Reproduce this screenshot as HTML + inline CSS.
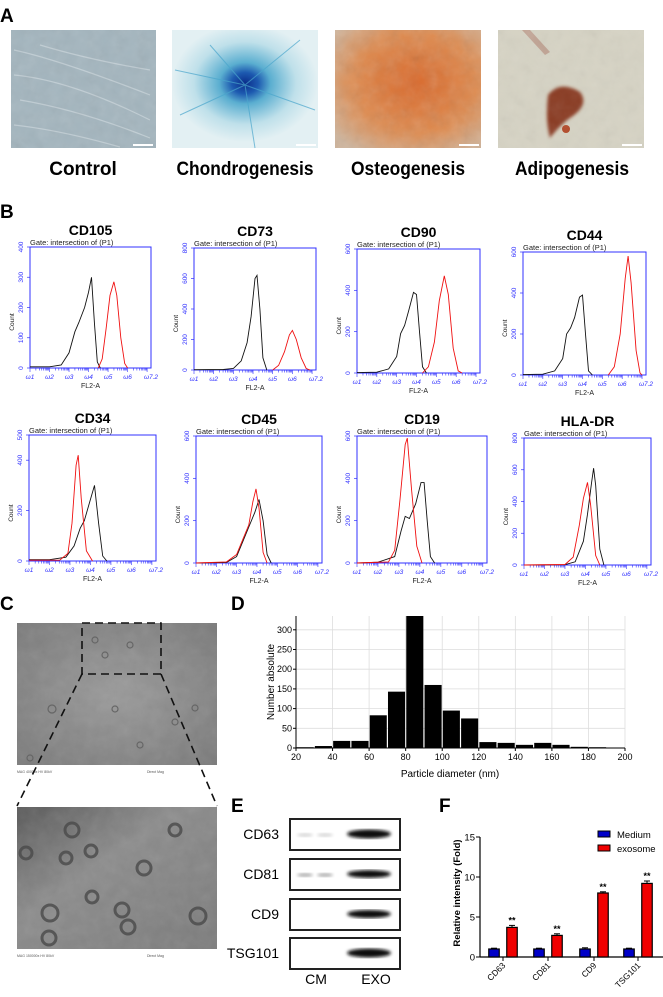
<!DOCTYPE html>
<html><head><meta charset="utf-8">
<style>
html,body{margin:0;padding:0;background:#fff;}
body{width:663px;height:992px;overflow:hidden;font-family:"Liberation Sans",Arial,sans-serif;}
svg text{font-family:"Liberation Sans",Arial,sans-serif;}
</style></head>
<body>
<svg id="fig" width="663" height="992" viewBox="0 0 663 992" xmlns="http://www.w3.org/2000/svg">
<defs>
 <filter id="blur1"><feGaussianBlur stdDeviation="1.5"/></filter>
 <filter id="blur3"><feGaussianBlur stdDeviation="3"/></filter>
 <filter id="noise" x="0" y="0" width="1" height="1"><feTurbulence type="fractalNoise" baseFrequency="0.08" numOctaves="3" seed="4"/><feColorMatrix type="saturate" values="0"/><feComponentTransfer><feFuncA type="linear" slope="0.35"/></feComponentTransfer></filter>
 <radialGradient id="chondro" cx="0.5" cy="0.45" r="0.5"><stop offset="0" stop-color="#0a2d8a"/><stop offset="0.18" stop-color="#1d5ab0"/><stop offset="0.35" stop-color="#5aaed0"/><stop offset="0.7" stop-color="#bfe0ea"/><stop offset="1" stop-color="#e3f0f3"/></radialGradient>
 <radialGradient id="osteo" cx="0.55" cy="0.45" r="0.7"><stop offset="0" stop-color="#d9682a"/><stop offset="0.6" stop-color="#de8a4e"/><stop offset="1" stop-color="#cfb49b"/></radialGradient>
 <radialGradient id="tem1" cx="0.5" cy="0.5" r="0.7"><stop offset="0" stop-color="#9a9a9a"/><stop offset="1" stop-color="#7a7a7a"/></radialGradient>
 <linearGradient id="tem2" x1="0" y1="0" x2="1" y2="1"><stop offset="0" stop-color="#5a5a5a"/><stop offset="0.4" stop-color="#8c8c8c"/><stop offset="1" stop-color="#7c7c7c"/></linearGradient>
</defs>

<!-- Panel A -->
<text x="0" y="22" font-size="19" font-weight="bold">A</text>
<g>
 <rect x="11" y="30" width="145" height="118" fill="#a3b5be"/>
 <g stroke="#c8d4da" stroke-width="1.2" fill="none" opacity="0.8">
  <path d="M14 50 Q60 60 150 95"/><path d="M14 75 Q70 80 150 120"/><path d="M20 100 Q80 110 150 138"/><path d="M40 45 Q90 60 150 70"/><path d="M14 125 Q60 130 120 147"/>
 </g>
 <rect x="11" y="30" width="145" height="118" filter="url(#noise)" opacity="0.5"/>
 <rect x="133" y="144" width="20" height="2" fill="#fff"/>
</g>
<g>
 <rect x="172" y="30" width="146" height="118" fill="url(#chondro)"/>
 <g stroke="#4aa6cc" stroke-width="1" opacity="0.7">
  <line x1="245" y1="85" x2="180" y2="115"/><line x1="245" y1="85" x2="255" y2="148"/><line x1="245" y1="85" x2="300" y2="40"/><line x1="245" y1="85" x2="210" y2="45"/><line x1="245" y1="85" x2="315" y2="110"/><line x1="245" y1="85" x2="175" y2="70"/>
 </g>
 <rect x="296" y="144" width="20" height="2" fill="#fff"/>
</g>
<g>
 <rect x="335" y="30" width="146" height="118" fill="url(#osteo)"/>
 <rect x="335" y="30" width="146" height="118" filter="url(#noise)" opacity="0.6"/>
 <rect x="459" y="144" width="20" height="2" fill="#fff"/>
</g>
<g>
 <rect x="498" y="30" width="146" height="118" fill="#d6d3c4"/>
 <path d="M548 95 Q560 80 580 92 Q590 105 570 118 Q560 125 550 138 Q545 120 548 95Z" fill="#8a3a22" filter="url(#blur1)"/>
 <circle cx="566" cy="129" r="4" fill="#b24a2a"/>
 <path d="M530 30 L550 52 L545 55 L522 30Z" fill="#b89080" opacity="0.7"/>
 <rect x="498" y="30" width="146" height="118" filter="url(#noise)" opacity="0.35"/>
 <rect x="622" y="144" width="20" height="2" fill="#fff"/>
</g>
<text x="83" y="175" font-size="19" font-weight="bold" text-anchor="middle">Control</text>
<text x="245" y="175" font-size="19" font-weight="bold" text-anchor="middle" textLength="137" lengthAdjust="spacingAndGlyphs">Chondrogenesis</text>
<text x="408" y="175" font-size="19" font-weight="bold" text-anchor="middle" textLength="114" lengthAdjust="spacingAndGlyphs">Osteogenesis</text>
<text x="572" y="175" font-size="19" font-weight="bold" text-anchor="middle" textLength="114" lengthAdjust="spacingAndGlyphs">Adipogenesis</text>

<!-- Panel B -->
<text x="0" y="218" font-size="19" font-weight="bold">B</text>
<g id="flow"></g>

<!-- Panel C -->
<text x="0" y="610" font-size="19" font-weight="bold">C</text>
<g>
 <rect x="17" y="623" width="200" height="142" fill="url(#tem1)"/>
 <rect x="17" y="623" width="200" height="142" filter="url(#noise)" opacity="0.4"/>
 <g fill="none" stroke="#666" stroke-width="1.2">
  <circle cx="52" cy="709" r="4"/><circle cx="115" cy="709" r="3"/><circle cx="95" cy="640" r="3"/><circle cx="130" cy="645" r="3"/><circle cx="105" cy="655" r="3"/><circle cx="175" cy="722" r="3"/><circle cx="195" cy="708" r="3"/><circle cx="30" cy="758" r="3"/><circle cx="140" cy="745" r="3"/>
 </g>
 <text x="17" y="773" font-size="3.5" fill="#555">MAG 40000x  HV 80kV</text>
 <text x="147" y="773" font-size="3.5" fill="#555">Direct Mag</text>
</g>
<g fill="none" stroke="#111" stroke-width="1.6" stroke-dasharray="8,5">
 <rect x="82" y="623" width="79" height="51"/>
 <line x1="82" y1="674" x2="17" y2="806"/>
 <line x1="161" y1="674" x2="217" y2="806"/>
</g>
<g>
 <rect x="17" y="807" width="200" height="142" fill="url(#tem2)"/>
 <rect x="17" y="807" width="200" height="142" filter="url(#noise)" opacity="0.4"/>
 <g fill="none" stroke="#4a4a4a" stroke-width="3" opacity="0.8">
  <circle cx="72" cy="830" r="7"/><circle cx="175" cy="830" r="6"/><circle cx="26" cy="853" r="6"/><circle cx="66" cy="858" r="6"/><circle cx="91" cy="851" r="6"/><circle cx="144" cy="868" r="7"/><circle cx="92" cy="897" r="6"/><circle cx="50" cy="913" r="8"/><circle cx="122" cy="910" r="7"/><circle cx="128" cy="927" r="7"/><circle cx="49" cy="938" r="7"/><circle cx="198" cy="916" r="8"/>
 </g>
 <text x="17" y="957" font-size="3.5" fill="#555">MAG 150000x  HV 80kV</text>
 <text x="147" y="957" font-size="3.5" fill="#555">Direct Mag</text>
</g>

<!-- Panel D -->
<text x="231" y="610" font-size="19" font-weight="bold">D</text>
<g id="histD"></g>

<!-- Panel E -->
<text x="231" y="812" font-size="19" font-weight="bold">E</text>
<g id="blots"></g>

<!-- Panel F -->
<text x="439" y="812" font-size="19" font-weight="bold">F</text>
<g id="barF"></g>
</svg>

<script>
// ---------- Panel D data ----------
const binStarts = [20,30,40,50,60,70,80,90,100,110,120,130,140,150,160,170,180];
const binCounts = [2,5,18,18,83,143,340,160,95,75,15,13,8,13,8,3,2];
const dXTicks = [20,40,60,80,100,120,140,160,180,200];
const dYTicks = [0,50,100,150,200,250,300];

// ---------- Panel F data ----------
const fCategories = ['CD63','CD81','CD9','TSG101'];
const fMedium = [1.0,1.0,1.0,1.0];
const fMediumErr = [0.1,0.1,0.15,0.1];
const fExosome = [3.7,2.7,8.0,9.2];
const fExosomeErr = [0.25,0.2,0.15,0.3];
const fYTicks = [0,5,10,15];

// ---------- Panel E data ----------
const blotMarkers = ['CD63','CD81','CD9','TSG101'];
const blotCM = [0.15,0.3,0,0];
const blotEXO = [1,0.85,0.9,1];

// ---------- Panel B data (log10 fluorescence, count) ----------
const flowMarkers = ['CD105','CD73','CD90','CD44','CD34','CD45','CD19','HLA-DR'];
const flowYMax = [400,800,600,600,500,600,600,800];
const flowYTicks = [[0,100,200,300,400],[0,200,400,600,800],[0,200,400,600],[0,200,400,600],[0,200,400,500],[0,200,400,600],[0,200,400,600],[0,200,400,600,800]];
const flowBlack = [
 [[1,4],[2,4],[2.6,10],[3,50],[3.3,120],[3.5,150],[3.8,200],[4.0,250],[4.15,300],[4.3,150],[4.45,20],[4.6,0]],
 [[1,2],[2.5,3],[3,10],[3.4,60],[3.7,180],[3.9,350],[4.1,600],[4.2,620],[4.35,400],[4.5,80],[4.7,0]],
 [[1,2],[2,4],[2.6,20],[3.0,80],[3.2,190],[3.4,230],[3.6,300],[3.85,390],[4.0,380],[4.15,200],[4.3,30],[4.5,0]],
 [[1,2],[2,4],[2.6,20],[3.0,80],[3.2,200],[3.4,230],[3.6,280],[3.85,380],[4.0,390],[4.15,200],[4.3,20],[4.5,0]],
 [[1,5],[2,5],[2.8,15],[3.2,60],[3.5,130],[3.7,160],[3.95,230],[4.2,300],[4.4,150],[4.6,20],[4.8,0]],
 [[1,0],[2.5,3],[3,30],[3.3,100],[3.6,170],[3.9,240],[4.1,300],[4.3,200],[4.5,40],[4.7,0]],
 [[1,0],[2,4],[2.8,30],[3.1,150],[3.3,220],[3.5,210],[3.8,280],[4.05,380],[4.2,380],[4.35,200],[4.5,30],[4.7,0]],
 [[1,0],[3,2],[3.5,20],[3.9,150],[4.1,320],[4.3,520],[4.4,610],[4.5,500],[4.7,100],[4.9,0]]
];
const flowRed = [
 [[4.5,0],[4.7,30],[4.9,130],[5.1,240],[5.3,285],[5.45,240],[5.65,100],[5.85,15],[6.0,0]],
 [[5.0,0],[5.3,30],[5.6,120],[5.85,230],[6.0,260],[6.2,200],[6.45,80],[6.7,10],[6.9,0]],
 [[4.3,0],[4.6,30],[4.9,150],[5.15,350],[5.4,470],[5.6,380],[5.85,120],[6.1,10],[6.3,0]],
 [[5.3,0],[5.6,40],[5.9,200],[6.15,470],[6.3,580],[6.45,450],[6.7,120],[6.9,10],[7.0,0]],
 [[1,3],[2.5,3],[2.9,30],[3.1,150],[3.3,380],[3.4,420],[3.55,250],[3.8,40],[4.1,0]],
 [[1,0],[2.5,5],[3,40],[3.3,110],[3.6,180],[3.8,290],[3.95,350],[4.1,260],[4.3,50],[4.5,0]],
 [[1,0],[2.5,5],[2.8,60],[3.05,300],[3.3,560],[3.4,590],[3.6,350],[3.85,80],[4.1,0]],
 [[1,0],[3,3],[3.4,50],[3.7,250],[3.9,420],[4.1,520],[4.25,380],[4.5,60],[4.7,0]]
];
// layout (positions only)
const flowBoxes = [
 [30,247,121,121],[194,248,122,122],[357,249,123,124],[523,252,123,123],
 [29,435,127,126],[196,436,126,127],[357,436,130,127],[524,438,127,127]
];

const NS='http://www.w3.org/2000/svg';
function mk(parent,tag,attrs,text){const e=document.createElementNS(NS,tag);for(const k in attrs)e.setAttribute(k,attrs[k]);if(text!==undefined)e.textContent=text;parent.appendChild(e);return e;}

// ---------- Build Panel B ----------
(function(){
 const g=document.getElementById('flow');
 flowMarkers.forEach((m,i)=>{
  const [bx,by,bw,bh]=flowBoxes[i];
  const pg=mk(g,'g',{});
  
  
  const t=mk(pg,'text',{x:bx+bw/2,y:by-12,'font-size':14,'font-weight':'bold','text-anchor':'middle'},m);
  
  
  const gt=mk(pg,'text',{x:bx,y:by-2,'font-size':7.5,fill:'#222'},'Gate: intersection of (P1)');
  
  
  mk(pg,'rect',{x:bx,y:by,width:bw,height:bh,fill:'none',stroke:'#3030ff','stroke-width':1});
  const xs=v=>bx+(v-1)/6.2*bw;
  const ys=v=>by+bh-v/flowYMax[i]*bh;
  for(let d=1;d<7.2;d++){for(let k=1;k<10;k++){const lv=d+Math.log10(k);if(lv>7.2)break;mk(pg,'line',{x1:xs(lv),x2:xs(lv),y1:by+bh,y2:by+bh+(k===1?4:2.5),stroke:'#3030ff','stroke-width':0.6});}}
  [1,2,3,4,5,6,7.2].forEach(d=>{
   const lab=mk(pg,'text',{x:xs(d),y:by+bh+11,'font-size':6.5,fill:'#3030ff','text-anchor':'middle','font-style':'italic'},'\u03c9'+(d===7.2?'7.2':d));
   
   
  });
  const xl=mk(pg,'text',{x:bx+bw*0.5,y:by+bh+20,'font-size':7,'text-anchor':'middle',fill:'#222'},'FL2-A');
  
  
  flowYTicks[i].forEach(v=>{
   mk(pg,'line',{x1:bx-3,x2:bx,y1:ys(v),y2:ys(v),stroke:'#3030ff','stroke-width':0.7});
   const yl=mk(pg,'text',{x:0,y:0,'font-size':6.5,fill:'#3030ff','text-anchor':'middle',transform:`translate(${bx-7},${ys(v)}) rotate(-90)`},String(v));
   
   
  });
  const cl=mk(pg,'text',{x:0,y:0,'font-size':6.5,'text-anchor':'middle',fill:'#222',transform:`translate(${bx-16},${by+bh*0.62}) rotate(-90)`},'Count');
  
  
  const pts=a=>a.map(p=>xs(p[0]).toFixed(1)+','+ys(p[1]).toFixed(1)).join(' ');
  const bl=mk(pg,'polyline',{points:pts(flowBlack[i]),fill:'none',stroke:'#111','stroke-width':0.9});
  
  
  const rl=mk(pg,'polyline',{points:pts(flowRed[i]),fill:'none',stroke:'#f01010','stroke-width':0.9});
  
  
 });
})();

// ---------- Build Panel D ----------
(function(){
 const g=document.getElementById('histD');
 const x0=296,x1=625,yb=748,yt=616;
 const xs=v=>x0+(v-20)/180*(x1-x0);
 const ys=v=>yb-v*0.394;
 mk(g,'rect',{x:x0,y:yt,width:x1-x0,height:yb-yt,fill:'#fff'});
 dXTicks.forEach(v=>{mk(g,'line',{x1:xs(v),x2:xs(v),y1:yt,y2:yb,stroke:'#ddd','stroke-width':0.8});});
 dYTicks.forEach(v=>{if(v>0)mk(g,'line',{x1:x0,x2:x1,y1:ys(v),y2:ys(v),stroke:'#ddd','stroke-width':0.8});});
 binStarts.forEach((s,i)=>{
  const top=Math.max(ys(binCounts[i]),yt);
  const r=mk(g,'rect',{x:xs(s)+0.6,y:top,width:xs(s+10)-xs(s)-1.2,height:yb-top,fill:'#000'});
  
  
 });
 mk(g,'line',{x1:x0,x2:x1,y1:yb,y2:yb,stroke:'#000','stroke-width':1});
 mk(g,'line',{x1:x0,x2:x0,y1:yt,y2:yb,stroke:'#000','stroke-width':1});
 dXTicks.forEach(v=>{
  mk(g,'line',{x1:xs(v),x2:xs(v),y1:yb,y2:yb+3,stroke:'#000'});
  const t=mk(g,'text',{x:xs(v),y:yb+12,'font-size':9,'text-anchor':'middle'},String(v));
  
  
 });
 dYTicks.forEach(v=>{
  mk(g,'line',{x1:x0-3,x2:x0,y1:ys(v),y2:ys(v),stroke:'#000'});
  const t=mk(g,'text',{x:x0-4,y:ys(v)+3,'font-size':9,'text-anchor':'end'},String(v));
  
  
 });
 const xl=mk(g,'text',{x:450,y:777,'font-size':10,'text-anchor':'middle'},'Particle diameter (nm)');
 
 
 const yl=mk(g,'text',{x:0,y:0,'font-size':10,'text-anchor':'middle',transform:'translate(274,682) rotate(-90)'},'Number absolute');
 
 
})();

// ---------- Build Panel E ----------
(function(){
 const g=document.getElementById('blots');
 const tops=[819,859,899,938];
 blotMarkers.forEach((m,i)=>{
  const y=tops[i];
  const bg=mk(g,'g',{});
  
  
  mk(bg,'rect',{x:290,y:y,width:110,height:31,fill:'#fff',stroke:'#222','stroke-width':2});
  if(blotCM[i]>0){
   mk(bg,'ellipse',{cx:305,cy:y+16,rx:8,ry:2,fill:'#000',opacity:blotCM[i],filter:'url(#blur1)'});
   mk(bg,'ellipse',{cx:325,cy:y+16,rx:8,ry:2,fill:'#000',opacity:blotCM[i],filter:'url(#blur1)'});
  }
  mk(bg,'ellipse',{cx:369,cy:y+15,rx:22,ry:4.5*blotEXO[i],fill:'#111',filter:'url(#blur1)'});
  const t=mk(g,'text',{x:279,y:y+20,'font-size':14,'text-anchor':'end'},m);
  
  
 });
 const a=mk(g,'text',{x:316,y:984,'font-size':14,'text-anchor':'middle'},'CM');
 
 
 const b=mk(g,'text',{x:376,y:984,'font-size':14,'text-anchor':'middle'},'EXO');
 
 
})();

// ---------- Build Panel F ----------
(function(){
 const g=document.getElementById('barF');
 const x0=480,yb=957,yt=837,ymax=15;
 const ys=v=>yb-v/ymax*(yb-yt);
 const centers=[503,548,594,638];
 const bw=10.5;
 mk(g,'line',{x1:x0,x2:x0,y1:yt,y2:yb,stroke:'#000','stroke-width':1.2});
 mk(g,'line',{x1:x0,x2:663,y1:yb,y2:yb,stroke:'#000','stroke-width':1.2});
 fYTicks.forEach(v=>{
  mk(g,'line',{x1:x0-4,x2:x0,y1:ys(v),y2:ys(v),stroke:'#000','stroke-width':1});
  const t=mk(g,'text',{x:x0-5,y:ys(v)+3.5,'font-size':9.5,'text-anchor':'end'},String(v));
  
  
 });
 fCategories.forEach((c,i)=>{
  const cx=centers[i];
  mk(g,'line',{x1:cx,x2:cx,y1:yb,y2:yb+4,stroke:'#000'});
  const bx1=cx-9-bw/2, bx2=cx+9-bw/2;
  const b1=mk(g,'rect',{x:bx1,y:ys(fMedium[i]),width:bw,height:yb-ys(fMedium[i]),fill:'#0000c8',stroke:'#000','stroke-width':1.2});
  
  
  mk(g,'line',{x1:cx-9,x2:cx-9,y1:ys(fMedium[i]+fMediumErr[i]),y2:ys(fMedium[i]),stroke:'#000','stroke-width':1});
  mk(g,'line',{x1:cx-12,x2:cx-6,y1:ys(fMedium[i]+fMediumErr[i]),y2:ys(fMedium[i]+fMediumErr[i]),stroke:'#000','stroke-width':1});
  const b2=mk(g,'rect',{x:bx2,y:ys(fExosome[i]),width:bw,height:yb-ys(fExosome[i]),fill:'#f00000',stroke:'#000','stroke-width':1.2});
  
  
  const et=ys(fExosome[i]+fExosomeErr[i]);
  mk(g,'line',{x1:cx+9,x2:cx+9,y1:et,y2:ys(fExosome[i]),stroke:'#000','stroke-width':1});
  mk(g,'line',{x1:cx+6,x2:cx+12,y1:et,y2:et,stroke:'#000','stroke-width':1});
  const s=mk(g,'text',{x:cx+9,y:et-2,'font-size':9,'font-weight':'bold','text-anchor':'middle'},'**');
  
  
  const t=mk(g,'text',{x:0,y:0,'font-size':8.5,'text-anchor':'end',transform:`translate(${cx+3},${yb+9}) rotate(-45)`},c);
  
  
 });
 const yl=mk(g,'text',{x:0,y:0,'font-size':9.5,'font-weight':'bold','text-anchor':'middle',transform:'translate(460,893) rotate(-90)'},'Relative intensity (Fold)');
 
 
 const l1=mk(g,'rect',{x:598,y:831,width:12,height:6,fill:'#0000c8',stroke:'#000','stroke-width':1});
 
 
 const lt1=mk(g,'text',{x:617,y:838,'font-size':9.5},'Medium');
 
 
 const l2=mk(g,'rect',{x:598,y:845,width:12,height:6,fill:'#f00000',stroke:'#000','stroke-width':1});
 
 
 const lt2=mk(g,'text',{x:617,y:852,'font-size':9.5},'exosome');
 
 
})();
</script>
</body></html>
